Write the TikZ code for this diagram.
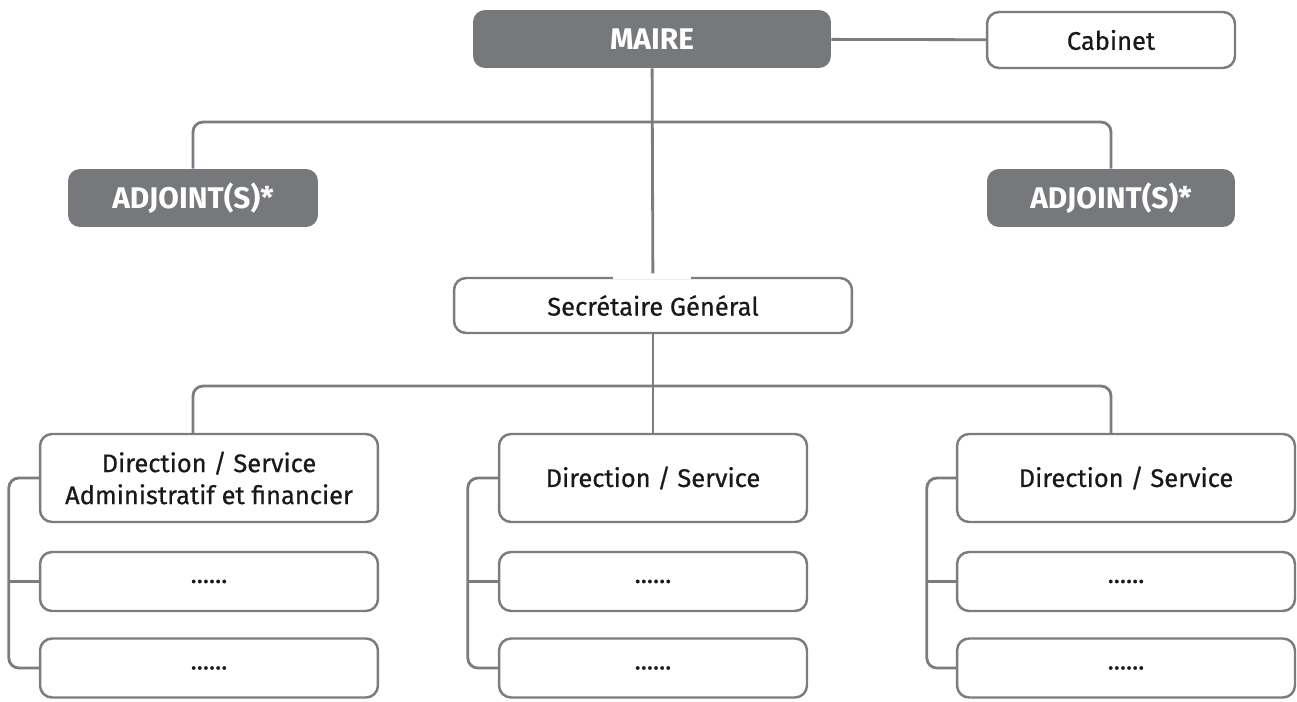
\documentclass[tikz,border=0pt]{standalone}
\usepackage{fontspec}
\setmainfont{Fira Sans}
\newfontfamily\boxfont{Fira Sans}[FakeBold=0.6]
\usetikzlibrary{positioning}
\definecolor{boxgray}{HTML}{77787B}
\definecolor{linegray}{HTML}{7B7C7F}
\tikzset{
	darkbox/.style={fill=boxgray, rounded corners=0.24cm, text=white, font=\fontsize{17pt}{20pt}\selectfont\bfseries, inner sep=0pt, align=center},
	whitebox/.style={draw=linegray, line width=1.4pt, fill=white, rounded corners=0.24cm, text=black!90, font=\fontsize{14.5pt}{18.2pt}\boxfont, inner sep=0pt, align=center},
	conn/.style={draw=linegray, line width=1.6pt},
}

\begin{document}
\begin{tikzpicture}[x=0.02cm, y=-0.02cm]
	\useasboundingbox (0,0) rectangle (1297,702);
	
	%TOP LEVEL
	\node[darkbox, minimum width=7.16cm, minimum height=1.16cm] (maire) at (652,39) {MAIRE};
	\node[whitebox, minimum width=4.96cm, minimum height=1.12cm] (cabinet) at (1111,40) {Cabinet};
	\node[darkbox, minimum width=5cm, minimum height=1.16cm] (adjL) at (193,198) {ADJOINT(S)*};
	\node[darkbox, minimum width=4.96cm, minimum height=1.16cm] (adjR) at (1111,198) {ADJOINT(S)*};
	\node[whitebox, minimum width=7.96cm, minimum height=1.1cm] (sg) at (653,305.5) {Secrétaire Général};
	
	%DIRECTIONS
	\node[whitebox, minimum width=6.76cm, minimum height=1.76cm] (dirL) at (209,478) {Direction / Service\\Administratif et financier};
	\node[whitebox, minimum width=6.16cm, minimum height=1.76cm] (dirM) at (653,478) {Direction / Service};
	\node[whitebox, minimum width=6.76cm, minimum height=1.76cm] (dirR) at (1126,478) {Direction / Service};
	%
	\node[whitebox, minimum width=6.76cm, minimum height=1.18cm] (subLa) at (209,581.5) {......};
	\node[whitebox, minimum width=6.76cm, minimum height=1.18cm] (subLb) at (209,668) {......};
	\node[whitebox, minimum width=6.16cm, minimum height=1.18cm] (subMa) at (653,581.5) {......};
	\node[whitebox, minimum width=6.16cm, minimum height=1.18cm] (subMb) at (653,668) {......};
	\node[whitebox, minimum width=6.76cm, minimum height=1.18cm] (subRa) at (1126,581.5) {......};
	\node[whitebox, minimum width=6.76cm, minimum height=1.18cm] (subRb) at (1126,668) {......};
	
	%CONNECTORS
	\draw[conn] (maire) -- (cabinet);
	\draw[conn, shorten >=2pt] (maire) -- (sg);
	\draw[white, line width=3pt] ([xshift=-0.8cm]sg.north) -- ([xshift=0.76cm]sg.north); %gap in border
	\draw[conn, rounded corners=0.2cm] (adjL.north) -- (adjL.north |- 0,122) -- (adjR.north |- 0,122) -- (adjR.north);
	\draw[conn] (sg) -- (dirM);
	\draw[conn, rounded corners=0.2cm] (adjL |- dirL.north) -- (adjL |- 0,386) -- (adjR |- 0,386) -- (adjR |- dirR.north);
	%
	\draw[conn, rounded corners=0.2cm] (dirL.west) -- ++(-30,0) |- (subLb.west);
	\draw[conn] (subLa.west) -- ++(-30,0);
	\draw[conn, rounded corners=0.2cm] (dirM.west) -- ++(-30,0) |- (subMb.west);
	\draw[conn] (subMa.west) -- ++(-30,0);
	\draw[conn, rounded corners=0.2cm] (dirR.west) -- ++(-29,0) |- (subRb.west);
	\draw[conn] (subRa.west) -- ++(-29,0);
\end{tikzpicture}
\end{document}
